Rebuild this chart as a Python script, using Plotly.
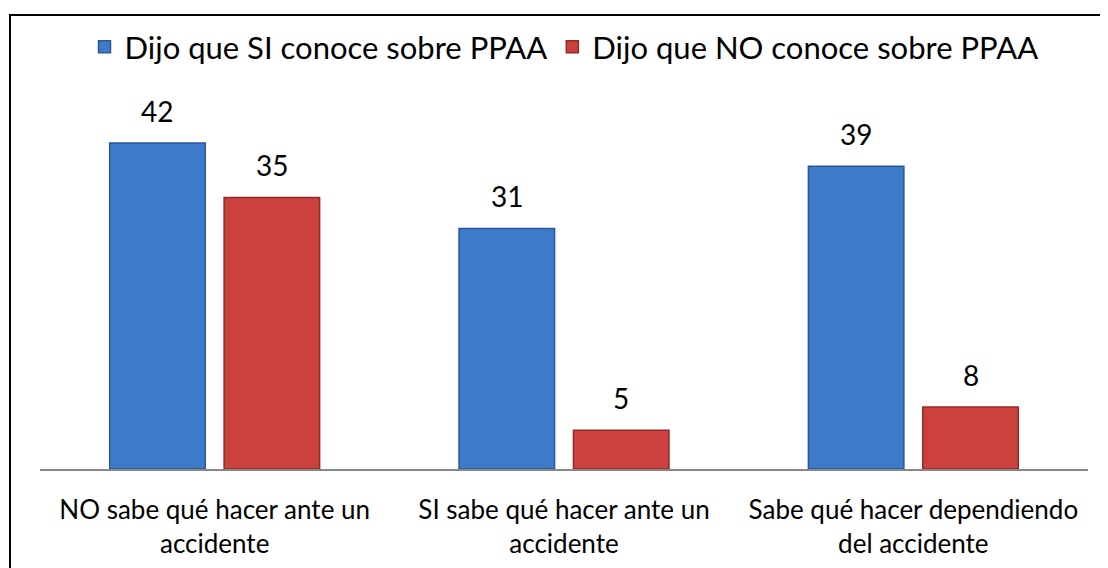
import plotly.graph_objects as go

categories = ["NO sabe qué hacer ante un<br>accidente",
              "SI sabe qué hacer ante un<br>accidente",
              "Sabe qué hacer dependiendo<br>del accidente"]
series_si_name = "Dijo que SI conoce sobre PPAA"
series_no_name = "Dijo que NO conoce sobre PPAA"
series_si = [42, 31, 39]
series_no = [35, 5, 8]

FONT = "Lato"
OFF = 8  # page body margin offset
W, H = 1108 - OFF, 568 - OFF
ml, mr, mt, mb = 40 - OFF, 20, 81 - OFF, 99
pw = W - ml - mr
ph = H - mt - mb
BARGAP, GROUPGAP = 0.345, 0.165

fig = go.Figure()
fig.add_trace(go.Bar(
    x=categories, y=series_si, name=series_si_name,
    marker=dict(color="#3d7bca", line=dict(color="#2b5894", width=1.5)),
))
fig.add_trace(go.Bar(
    x=categories, y=series_no, name=series_no_name,
    marker=dict(color="#cc413d", line=dict(color="#8f2a27", width=1.5)),
))

# value labels, placed through the axis scales
slot = (pw / len(categories)) * (1 - BARGAP) / 2
annotations = []
for vals, sign in ((series_si, -1), (series_no, 1)):
    for c, v in zip(categories, vals):
        annotations.append(dict(x=c, y=v, xref="x", yref="y", text=str(v),
                                showarrow=False, yanchor="bottom", yshift=13,
                                xshift=sign * slot / 2,
                                font=dict(size=28, family=FONT, color="#000000")))

def px_x(px):
    return (px - OFF - ml) / pw

def px_y(py):
    return (H - mb - (py - OFF)) / ph

fig.update_layout(
    width=W, height=H,
    margin=dict(l=ml, r=mr, t=mt, b=mb, autoexpand=False),
    paper_bgcolor="white", plot_bgcolor="white",
    barmode="group", bargap=BARGAP, bargroupgap=GROUPGAP,
    font=dict(family=FONT, color="#000000"),
    showlegend=True,
    legend=dict(orientation="h", x=0.5, xanchor="center", y=px_y(47), yanchor="middle",
                font=dict(size=31, family=FONT, color="#000000"),
                itemwidth=30, tracegroupgap=0, bgcolor="rgba(0,0,0,0)"),
    xaxis=dict(showline=True, linecolor="#888888", linewidth=2, ticks="",
               showgrid=False, tickfont=dict(size=26, family=FONT, color="#000000"),
               ticklabelstandoff=17, automargin=False, fixedrange=True),
    yaxis=dict(range=[0, 50], visible=False, showgrid=False, fixedrange=True),
    annotations=annotations,
    shapes=[dict(type="rect", xref="paper", yref="paper",
                 x0=px_x(10), x1=px_x(1130), y0=px_y(590), y1=px_y(15),
                 line=dict(color="#000000", width=2), fillcolor="rgba(0,0,0,0)",
                 layer="above")],
)

fig.write_html("out.html")
